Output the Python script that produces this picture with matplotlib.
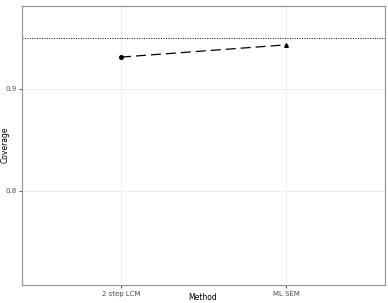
import numpy as np
import matplotlib
matplotlib.use("Agg")
import matplotlib.pyplot as plt

# Data
methods = ["2 step LCM", "ML SEM"]
coverage = [0.931, 0.943]
markers = ["o", "^"]
nominal = 0.95
y_ticks = [0.8, 0.9]
y_tick_labels = ["0.8", "0.9"]

W, H = 388, 303
fig = plt.figure(figsize=(W / 100, H / 100), dpi=100)
ax = fig.add_axes([22 / W, 1 - 285 / H, (385 - 22) / W, (285 - 6) / H])

x = np.arange(len(methods))
ax.plot(x, coverage, color="black", lw=0.9, dashes=(8, 4), zorder=3)
for xi, yi, m in zip(x, coverage, markers):
    ax.plot(xi, yi, marker=m, color="black", ms=2.6, zorder=4)
ax.axhline(nominal, color="black", lw=0.7, ls=(0, (1, 1.5)), zorder=2)

ax.set_xlim(-0.6, len(methods) - 1 + 0.6)
ax.set_ylim(0.708, 0.981)
ax.set_xticks(x)
ax.set_xticklabels(methods)
ax.set_yticks(y_ticks)
ax.set_yticklabels(y_tick_labels)

ax.grid(True, color="#ebebeb", lw=0.6, zorder=0)
ax.set_axisbelow(True)
for s in ax.spines.values():
    s.set_color("#999999")
    s.set_linewidth(0.9)
ax.tick_params(axis="both", labelsize=5, colors="#333333", length=2, width=0.6,
               pad=2, labelcolor="#4d4d4d")

fig.text(203 / W, 1 - 297 / H, "Method", fontsize=5.5, ha="center", va="center")
fig.text(5 / W, 1 - 145 / H, "Coverage", fontsize=5.5, ha="center", va="center",
         rotation=90)

fig.savefig("out.png", dpi=100)
